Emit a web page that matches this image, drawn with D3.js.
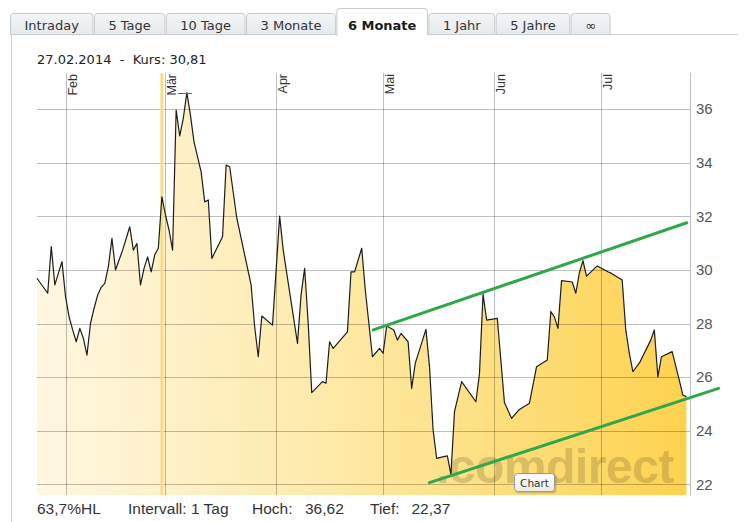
<!DOCTYPE html>
<html>
<head>
<meta charset="utf-8">
<script src="https://cdn.jsdelivr.net/npm/d3@7"></script>
<style>
  html, body { margin: 0; padding: 0; background: #fff; }
  svg { display: block; }
</style>
</head>
<body>
<svg id="chart" width="752" height="522"></svg>
<script>
// ---------------- DATA ----------------
const tabLabels = ["Intraday", "5 Tage", "10 Tage", "3 Monate", "6 Monate", "1 Jahr", "5 Jahre", "\u221E"];
const activeTab = "6 Monate";

const dates = [
  "2014-01-24","2014-01-27","2014-01-28","2014-01-29","2014-01-31","2014-02-01","2014-02-02","2014-02-03",
  "2014-02-04","2014-02-05","2014-02-06","2014-02-07","2014-02-08","2014-02-09","2014-02-10","2014-02-11",
  "2014-02-12","2014-02-13","2014-02-14","2014-02-15","2014-02-17","2014-02-19","2014-02-20","2014-02-21",
  "2014-02-22","2014-02-23","2014-02-24","2014-02-25","2014-02-26","2014-02-27","2014-02-28","2014-03-01",
  "2014-03-02","2014-03-03","2014-03-04","2014-03-05","2014-03-06","2014-03-07","2014-03-08","2014-03-09",
  "2014-03-11","2014-03-12","2014-03-13","2014-03-14","2014-03-17","2014-03-18","2014-03-19","2014-03-21",
  "2014-03-25","2014-03-26","2014-03-27","2014-03-28","2014-03-31","2014-04-02","2014-04-03","2014-04-07",
  "2014-04-08","2014-04-09","2014-04-10","2014-04-11","2014-04-14","2014-04-15","2014-04-16","2014-04-17",
  "2014-04-21","2014-04-22","2014-04-23","2014-04-25","2014-04-26","2014-04-27","2014-04-28","2014-04-30",
  "2014-05-01","2014-05-02","2014-05-04","2014-05-05","2014-05-06","2014-05-08","2014-05-09","2014-05-10",
  "2014-05-13","2014-05-14","2014-05-15","2014-05-16","2014-05-18","2014-05-19","2014-05-20","2014-05-21",
  "2014-05-23","2014-05-27","2014-05-28","2014-05-29","2014-05-30","2014-06-02","2014-06-04","2014-06-06",
  "2014-06-08","2014-06-11","2014-06-13","2014-06-16","2014-06-17","2014-06-18","2014-06-19","2014-06-20",
  "2014-06-23","2014-06-24","2014-06-25","2014-06-26","2014-06-27","2014-06-30","2014-07-03","2014-07-04",
  "2014-07-07","2014-07-08","2014-07-09","2014-07-10","2014-07-12","2014-07-15","2014-07-16","2014-07-17",
  "2014-07-18","2014-07-21","2014-07-23","2014-07-24","2014-07-25"
];
const closes = [
  29.69,29.13,30.87,29.44,30.31,29.00,28.25,27.76,
  27.32,27.82,27.45,26.82,28.01,28.57,29.06,29.35,
  29.50,30.12,31.18,30.00,30.74,31.61,30.74,30.99,
  29.44,30.06,30.49,29.93,30.56,30.81,32.73,32.05,
  31.49,30.74,35.97,35.00,35.66,36.62,35.78,34.78,
  33.66,32.54,32.61,30.43,31.24,33.91,33.85,31.93,
  29.44,27.88,26.76,28.28,27.94,32.01,30.74,27.26,
  29.06,30.06,28.01,25.42,25.83,25.77,27.32,27.07,
  27.69,29.93,29.93,30.81,29.25,28.01,26.76,27.07,
  26.89,27.91,27.76,27.38,27.63,27.32,25.58,26.51,
  27.78,26.39,24.03,22.97,23.03,23.06,22.37,24.71,
  25.83,25.08,26.12,29.10,28.13,28.19,25.05,24.46,
  24.77,25.02,26.39,26.64,28.45,28.25,27.82,29.60,
  29.55,29.13,29.90,30.35,29.77,30.15,29.93,29.87,
  29.62,27.76,26.89,26.20,26.57,27.38,27.76,26.01,
  26.76,26.95,25.89,25.33,25.27
];

// trend channel lines (start / end)
const upperTrendDates = ["2014-04-28T06:00", "2014-07-25T02:00"];
const upperTrendValues = [27.76, 31.76];
const lowerTrendDates = ["2014-05-14", "2014-08-03"];
const lowerTrendValues = [22.06, 25.58];

const yTicks = [22, 24, 26, 28, 30, 32, 34, 36];
const monthTicks = ["2014-02-01","2014-03-01","2014-04-01","2014-05-01","2014-06-01","2014-07-01"];
const monthLabels = ["Feb", "M\u00E4r", "Apr", "Mai", "Jun", "Jul"];
const xDomain = ["2014-01-24", "2014-07-26"];
const yDomain = [21.6, 37.35];

const markerDate = "2014-02-28";
const headerText = "27.02.2014\u00A0\u00A0-\u00A0\u00A0Kurs: 30,81";
const footerLabels = ["63,7%HL", "Intervall: 1 Tag", "Hoch:", "36,62", "Tief:", "22,37"];
const watermark = ".comdirect";
const buttonLabel = "Chart";

// ---------------- DRAW ----------------
const parse = s => new Date(s.length > 10 ? s + ":00Z" : s + "T00:00:00Z");
const svg = d3.select("#chart");
const plot = { left: 37, right: 690, top: 73, bottom: 495 };

const x = d3.scaleUtc().domain(xDomain.map(parse)).range([plot.left, plot.right]);
const y = d3.scaleLinear().domain(yDomain).range([plot.bottom, plot.top]);

const series = dates.map((d, i) => ({ date: parse(d), value: closes[i] }));

const defs = svg.append("defs");
const grad = defs.append("linearGradient").attr("id", "fillGrad")
  .attr("gradientUnits", "userSpaceOnUse")
  .attr("x1", plot.left).attr("x2", plot.right).attr("y1", 0).attr("y2", 0);
grad.append("stop").attr("offset", "0%").attr("stop-color", "#fff7e2");
grad.append("stop").attr("offset", "45%").attr("stop-color", "#feeaa8");
grad.append("stop").attr("offset", "100%").attr("stop-color", "#fdd24e");

const tabGrad = defs.append("linearGradient").attr("id", "tabGrad")
  .attr("x1", 0).attr("x2", 0).attr("y1", 0).attr("y2", 1);
tabGrad.append("stop").attr("offset", "0%").attr("stop-color", "#f3f5f7");
tabGrad.append("stop").attr("offset", "100%").attr("stop-color", "#e6eaed");

const btnGrad = defs.append("linearGradient").attr("id", "btnGrad")
  .attr("x1", 0).attr("x2", 0).attr("y1", 0).attr("y2", 1);
btnGrad.append("stop").attr("offset", "0%").attr("stop-color", "#ffffff");
btnGrad.append("stop").attr("offset", "100%").attr("stop-color", "#ebebeb");

// ---- panel borders
const panelTop = 34.5;
svg.append("line").attr("x1", 11.5).attr("x2", 738).attr("y1", panelTop).attr("y2", panelTop)
  .attr("stroke", "#cdd2d6");
svg.append("line").attr("x1", 11.5).attr("x2", 11.5).attr("y1", panelTop).attr("y2", 522)
  .attr("stroke", "#cdd2d6");

// ---- tabs
const tabFont = "'DejaVu Sans', Verdana, sans-serif";
const tabsG = svg.append("g");
let tx = 10.5;
tabLabels.forEach(label => {
  const active = label === activeTab;
  const t = tabsG.append("text").text(label)
    .attr("font-family", tabFont).attr("font-size", 13)
    .attr("font-weight", active ? "bold" : "normal")
    .attr("fill", active ? "#1a1a1a" : "#333");
  const w = t.node().getComputedTextLength() + (active ? 22 : 28);
  const top = active ? 8.5 : 13.5;
  const bottom = active ? 35.5 : panelTop;
  const r = 3;
  const p = `M${tx},${bottom} L${tx},${top + r} Q${tx},${top} ${tx + r},${top} L${tx + w - r},${top} Q${tx + w},${top} ${tx + w},${top + r} L${tx + w},${bottom}`;
  tabsG.insert("path", "text").attr("d", p + (active ? "" : " Z"))
    .attr("fill", active ? "#ffffff" : "url(#tabGrad)")
    .attr("stroke", "#c6cbd0");
  t.attr("x", tx + w / 2).attr("y", 29.5).attr("text-anchor", "middle");
  tx += w + 1.5;
});

// ---- header
svg.append("text").attr("x", 37).attr("y", 63.5).text(headerText)
  .attr("font-family", tabFont).attr("font-size", 13).attr("fill", "#222");

// ---- area fill
const area = d3.area().x(d => x(d.date)).y0(plot.bottom).y1(d => y(d.value));
svg.append("path").datum(series).attr("d", area).attr("fill", "url(#fillGrad)");

// ---- watermark
svg.append("text").attr("x", 436).attr("y", 483).text(watermark)
  .attr("font-family", "'Liberation Sans', Arial, sans-serif").attr("font-weight", "bold")
  .attr("font-size", 48).attr("letter-spacing", -0.5)
  .attr("fill", "rgba(110,90,40,0.27)");

// ---- grid
const gridColor = "rgba(0,0,0,0.25)";
svg.append("g").selectAll("line").data(yTicks).join("line")
  .attr("x1", plot.left).attr("x2", plot.right)
  .attr("y1", d => Math.round(y(d)) + 0.5).attr("y2", d => Math.round(y(d)) + 0.5)
  .attr("stroke", gridColor);

// marker (selected date)
svg.append("line")
  .attr("x1", x(parse(markerDate))).attr("x2", x(parse(markerDate)))
  .attr("y1", plot.top).attr("y2", plot.bottom)
  .attr("stroke", "#f7de84").attr("stroke-width", 3);

svg.append("g").selectAll("line").data(monthTicks).join("line")
  .attr("x1", d => Math.round(x(parse(d))) + 0.5).attr("x2", d => Math.round(x(parse(d))) + 0.5)
  .attr("y1", plot.top).attr("y2", plot.bottom)
  .attr("stroke", gridColor);
svg.append("line").attr("x1", plot.right + 0.5).attr("x2", plot.right + 0.5)
  .attr("y1", plot.top).attr("y2", plot.bottom).attr("stroke", gridColor);

// month labels
svg.append("g").selectAll("text").data(monthTicks).join("text")
  .attr("transform", d => `translate(${Math.round(x(parse(d))) + 11},${plot.top + 1}) rotate(-90)`)
  .attr("text-anchor", "end")
  .attr("font-family", "'Liberation Sans', Arial, sans-serif").attr("font-size", 12.5)
  .attr("fill", "#333")
  .text((d, i) => monthLabels[i]);

// y axis labels (right)
const yAxis = d3.axisRight(y).tickValues(yTicks).tickSize(0).tickPadding(6)
  .tickFormat(d3.format("d"));
const yg = svg.append("g").attr("transform", `translate(${plot.right},0)`).call(yAxis);
yg.select(".domain").remove();
yg.selectAll("text").attr("font-family", "'Liberation Sans', Arial, sans-serif")
  .attr("font-size", 15).attr("fill", "#555");

// ---- price line
const line = d3.line().x(d => x(d.date)).y(d => y(d.value));
svg.append("path").datum(series).attr("d", line)
  .attr("fill", "none").attr("stroke", "#1c1c1c").attr("stroke-width", 1.2)
  .attr("stroke-linejoin", "round");

// high marker
const hi = series.reduce((a, b) => (b.value > a.value ? b : a));
svg.append("line").attr("x1", x(hi.date) - 9).attr("x2", x(hi.date) + 5)
  .attr("y1", Math.round(y(hi.value)) + 0.5).attr("y2", Math.round(y(hi.value)) + 0.5)
  .attr("stroke", "#666");

// ---- trend lines
const trendLine = d3.line().x(d => x(d.date)).y(d => y(d.value));
[[upperTrendDates, upperTrendValues], [lowerTrendDates, lowerTrendValues]].forEach(([ds, vs]) => {
  svg.append("path")
    .datum(ds.map((d, i) => ({ date: parse(d), value: vs[i] })))
    .attr("d", trendLine)
    .attr("fill", "none").attr("stroke", "#2ea84a").attr("stroke-width", 3)
    .attr("stroke-linecap", "round");
});

// ---- Chart button
const bx = 514, by = 473;
svg.append("rect").attr("x", bx + 1.5).attr("y", by + 1.5).attr("width", 41).attr("height", 19).attr("rx", 3)
  .attr("fill", "rgba(0,0,0,0.15)");
svg.append("rect").attr("x", bx + 0.5).attr("y", by + 0.5).attr("width", 40).attr("height", 18).attr("rx", 3)
  .attr("fill", "url(#btnGrad)").attr("stroke", "#9a9a9a");
svg.append("text").attr("x", bx + 20.5).attr("y", by + 13.5).attr("text-anchor", "middle")
  .attr("font-family", tabFont).attr("font-size", 10.5).attr("fill", "#333").text(buttonLabel);

// ---- footer
const footerX = [37, 128, 252, 305, 370, 411.5];
svg.append("g").selectAll("text").data(footerLabels).join("text")
  .attr("x", (d, i) => footerX[i]).attr("y", 514)
  .attr("font-family", "'Liberation Sans', Arial, sans-serif").attr("font-size", 15.5)
  .attr("fill", "#333").text(d => d);
</script>
</body>
</html>
